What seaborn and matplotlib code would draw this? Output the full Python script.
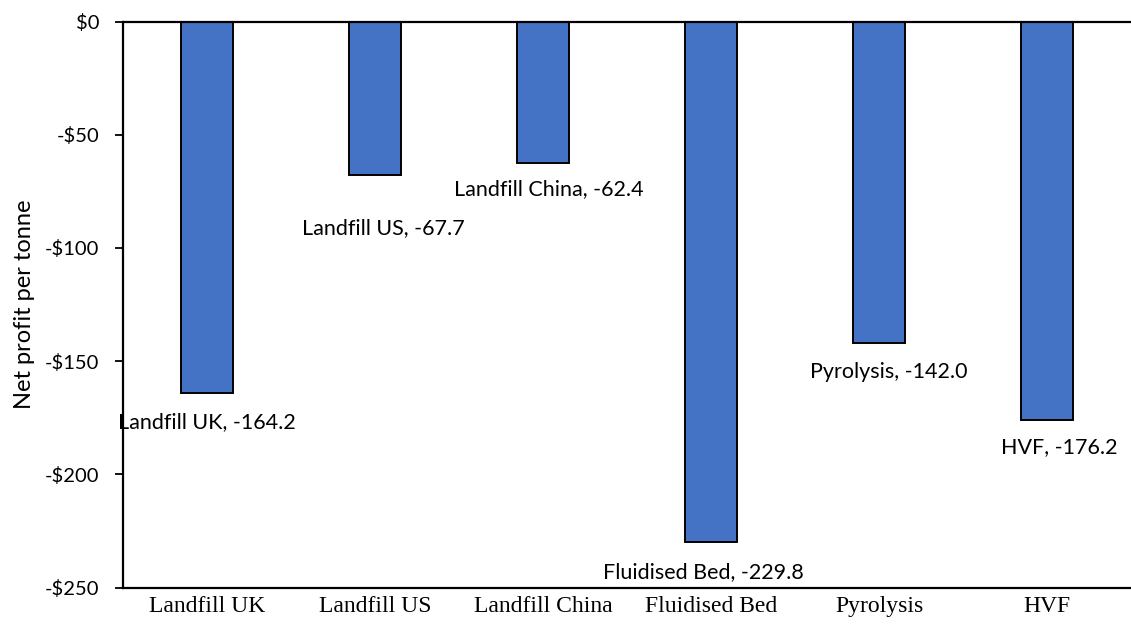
import matplotlib
matplotlib.use("Agg")
import matplotlib.pyplot as plt
import seaborn as sns
import pandas as pd

# Net profit per tonne for each disposal/processing route
categories = ["Landfill UK", "Landfill US", "Landfill China", "Fluidised Bed", "Pyrolysis", "HVF"]
profits = [-164.2, -67.7, -62.4, -229.8, -142.0, -176.2]

# Label nudges in pixels (dx, dy) relative to each bar's end
label_offsets = [(0, -29), (8, -53), (6, -26), (-8, -30), (10, -29), (12, -27)]

sns.set_theme(style="white")
plt.rcParams["font.family"] = ["Lato", "DejaVu Sans"]

df = pd.DataFrame({"route": categories, "profit": profits})

fig = plt.figure(figsize=(11.31, 6.29), dpi=100)
ax = fig.add_axes([123 / 1131, 1 - 587.5 / 629, 1 - 123 / 1131, (587.5 - 21.5) / 629])

sns.barplot(data=df, x="route", y="profit", order=categories, color="#4472C4",
            saturation=1, width=0.315, edgecolor="black", linewidth=1.4, ax=ax)

ax.set_ylim(-250, 0)
ax.set_xlim(-0.5, 5.5)
yticks = [0, -50, -100, -150, -200, -250]
ax.set_yticks(yticks)
ax.set_yticklabels(["$0" if v == 0 else f"-${abs(v)}" for v in yticks],
                   fontsize=14.5, color="black")
ax.set_xticks(range(len(categories)))
ax.set_xticklabels(categories, fontfamily="Liberation Serif", fontsize=17, color="black")
ax.tick_params(axis="x", length=0, pad=6)
ax.tick_params(axis="y", length=6, width=1.3, direction="out", left=True, pad=11, color="black")

ax.set_xlabel("")
ax.set_ylabel("Net profit per tonne", fontsize=17, color="black", labelpad=7)

for side in ["left", "top", "bottom"]:
    ax.spines[side].set_visible(True)
    ax.spines[side].set_color("black")
    ax.spines[side].set_linewidth(1.6)
ax.spines["right"].set_visible(False)

for i, (name, val) in enumerate(zip(categories, profits)):
    dx, dy = label_offsets[i]
    ax.annotate(f"{name}, {val:.1f}", xy=(i, val), xytext=(dx, dy),
                textcoords="offset pixels", ha="center", va="center",
                fontsize=15.5, color="black")

fig.savefig("out.png", dpi=100, facecolor="white")
